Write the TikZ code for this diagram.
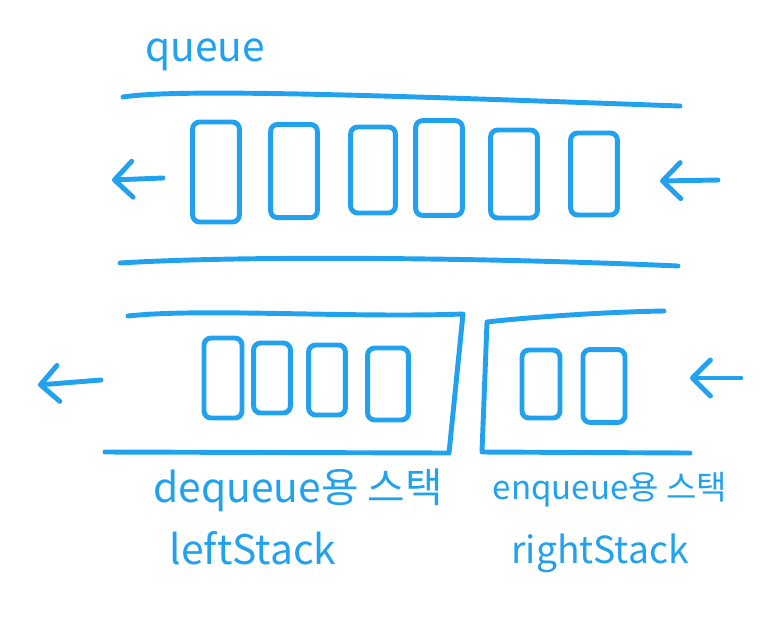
\documentclass[tikz,border=0pt]{standalone}
\usepackage{fontspec}
\setmainfont{Noto Sans CJK KR}
\usetikzlibrary{arrows.meta,positioning}
\definecolor{pen}{RGB}{33,161,238}

\tikzset{
  pencil/.style={draw=pen,line width=3.5pt,line cap=round,line join=round},
  qcell/.style={pencil,rectangle,rounded corners=5pt,minimum width=1.17cm,minimum height=2.4cm,inner sep=0pt},
  scell/.style={pencil,rectangle,rounded corners=5pt,minimum width=0.95cm,minimum height=1.85cm,inner sep=0pt},
  hand/.style={text=pen,font=\fontsize{29}{34}\selectfont,inner sep=0pt},
  barb/.style={pencil,-{Straight Barb[round,length=4.5mm,width=9mm]}}
}

\begin{document}
\begin{tikzpicture}[x=0.025cm,y=-0.025cm]
\useasboundingbox (0,0) rectangle (777,621);

% queue
\node[hand] (qlabel) at (205,55) {queue};
\draw[pencil] (123,97) .. controls (180,88) and (400,96) .. (680,106);
\draw[pencil] (120,263) .. controls (250,255) and (500,258) .. (678,266);

\node[qcell,minimum height=2.5cm] (q1) at (216,172) {};
\node[qcell,minimum height=2.33cm] (q2) at (294,171) {};
\node[qcell,minimum width=1.12cm,minimum height=2.15cm] (q3) at (373,170) {};
\node[qcell,minimum height=2.37cm] (q4) at (439,168) {};
\node[qcell,minimum height=2.2cm] (q5) at (514,174) {};
\node[qcell,minimum height=2.05cm] (q6) at (594,174) {};

\coordinate (qoutS) at (163,178);
\coordinate (qoutT) at (112,180);
\coordinate (qinS) at (718,180);
\coordinate (qinT) at (660,181);
\draw[barb] (qoutS) -- (qoutT);
\draw[barb] (qinS) -- (qinT);

% leftStack
\draw[pencil] (105,452) -- (449,453) -- (463,314) .. controls (350,318) and (200,308) .. (128,316);
\node[scell,minimum height=2cm] (l1) at (223,378) {};
\node[scell,minimum width=0.92cm,minimum height=1.75cm] (l2) at (272,378) {};
\node[scell,minimum width=0.92cm,minimum height=1.75cm] (l3) at (327,380) {};
\node[scell,minimum width=1.02cm,minimum height=1.8cm] (l4) at (388,384) {};

% rightStack
\draw[pencil] (664,311) .. controls (600,312) and (520,318) .. (487,322) -- (482,452) -- (690,453);
\node[scell,minimum height=1.7cm] (r1) at (541,384) {};
\node[scell,minimum width=1.05cm,minimum height=1.82cm] (r2) at (604,386) {};

\coordinate (loutS) at (101,380);
\coordinate (loutT) at (38,385);
\coordinate (rinS) at (741,378);
\coordinate (rinT) at (690,378);
\draw[barb] (loutS) -- (loutT);
\draw[barb] (rinS) -- (rinT);

\node[hand] (ldesc) at (298,490) {dequeue용 스택};
\node[hand] (lname) at (253,548) {leftStack};
\node[hand,font=\fontsize{23.5}{28}\selectfont] (rdesc) at (610,490) {enqueue용 스택};
\node[hand,font=\fontsize{26.5}{31}\selectfont] (rname) at (600,553) {rightStack};
\end{tikzpicture}
\end{document}
